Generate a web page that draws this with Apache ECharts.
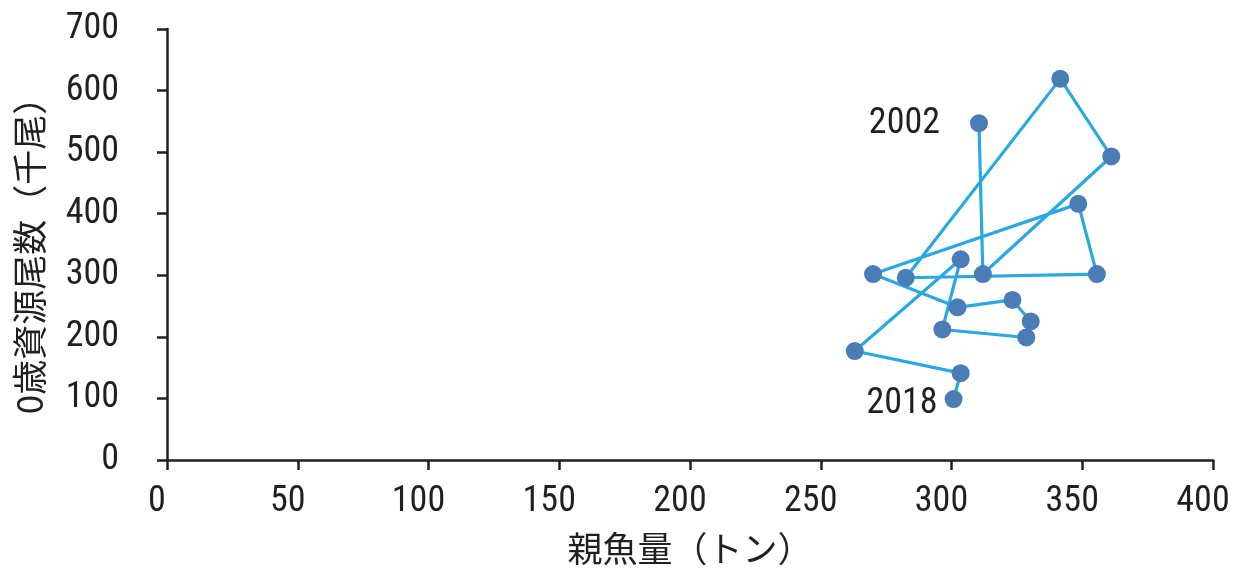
<!DOCTYPE html>
<html>
<head>
<meta charset="utf-8">
<script src="https://cdn.jsdelivr.net/npm/echarts@6/dist/echarts.min.js"></script>
<style>
html,body{margin:0;padding:0;background:#fff;}
#chart{width:1234px;height:568px;}
</style>
</head>
<body>
<div id="chart"></div>
<script>
const years = [2002,2003,2004,2005,2006,2007,2008,2009,2010,2011,2012,2013,2014,2015,2016,2017,2018];
const spawnerTons = [310.5,312.0,361.1,341.6,282.5,355.6,348.5,270.0,302.3,323.3,330.3,328.6,296.5,303.5,263.0,303.5,300.8];
const recruitsThousand = [547,302,493,619,296,302,416,302,248,260,225,199,212,326,177,141,99];
const labelledYears = [2002, 2018];
const xTicks = [0,50,100,150,200,250,300,350,400];
const yTicks = [0,100,200,300,400,500,600,700];

const numFont = '"Roboto Condensed","Liberation Sans Narrow",sans-serif';
const cjkFont = '"Noto Sans CJK JP","Noto Sans CJK SC",sans-serif';
const ink = '#231f20';

const data = years.map((y, i) => {
  const item = { value: [spawnerTons[i], recruitsThousand[i]], name: String(y) };
  if (labelledYears.includes(y)) {
    item.label = {
      show: true,
      position: 'left',
      formatter: String(y),
      distance: i === 0 ? 30 : 7,
      offset: i === 0 ? [0, 1] : [0, 5],
      color: ink,
      fontFamily: numFont,
      fontSize: 36
    };
  }
  return item;
});

const chart = echarts.init(document.getElementById('chart'), null, { renderer: 'canvas' });
chart.setOption({
  animation: false,
  backgroundColor: '#ffffff',
  grid: { left: 167, right: 21, top: 29, bottom: 108, containLabel: false, outerBoundsMode: 'none' },
  xAxis: {
    type: 'value',
    min: xTicks[0], max: xTicks[xTicks.length - 1], interval: xTicks[1] - xTicks[0],
    name: '親魚量（トン）',
    nameLocation: 'middle',
    nameGap: 71,
    nameTextStyle: { fontFamily: cjkFont, fontSize: 35, color: ink },
    axisLine: { show: true, lineStyle: { color: ink, width: 2.5 } },
    axisTick: { show: true, inside: false, length: 10, lineStyle: { color: ink, width: 2.5 } },
    axisLabel: { fontFamily: numFont, fontSize: 36, color: ink, margin: 24, padding: [0, 20, 0, 0] },
    splitLine: { show: false }
  },
  yAxis: {
    type: 'value',
    min: yTicks[0], max: yTicks[yTicks.length - 1], interval: yTicks[1] - yTicks[0],
    name: '0歳資源尾数（千尾）',
    nameLocation: 'middle',
    nameRotate: 90,
    nameGap: 120,
    nameTextStyle: { fontFamily: cjkFont, fontSize: 35, color: ink, padding: [0, 5, 0, 0] },
    axisLine: { show: true, lineStyle: { color: ink, width: 2.5 } },
    axisTick: { show: true, inside: false, length: 10, lineStyle: { color: ink, width: 2.5 } },
    axisLabel: { fontFamily: numFont, fontSize: 36, color: ink, margin: 48 },
    splitLine: { show: false }
  },
  series: [{
    type: 'line',
    data: data,
    symbol: 'circle',
    symbolSize: 18,
    showAllSymbol: true,
    lineStyle: { color: '#29a9df', width: 3.2 },
    itemStyle: { color: '#4a7db5', borderWidth: 0 },
    label: { show: false },
    emphasis: { disabled: true },
    z: 3
  }]
});
</script>
</body>
</html>
